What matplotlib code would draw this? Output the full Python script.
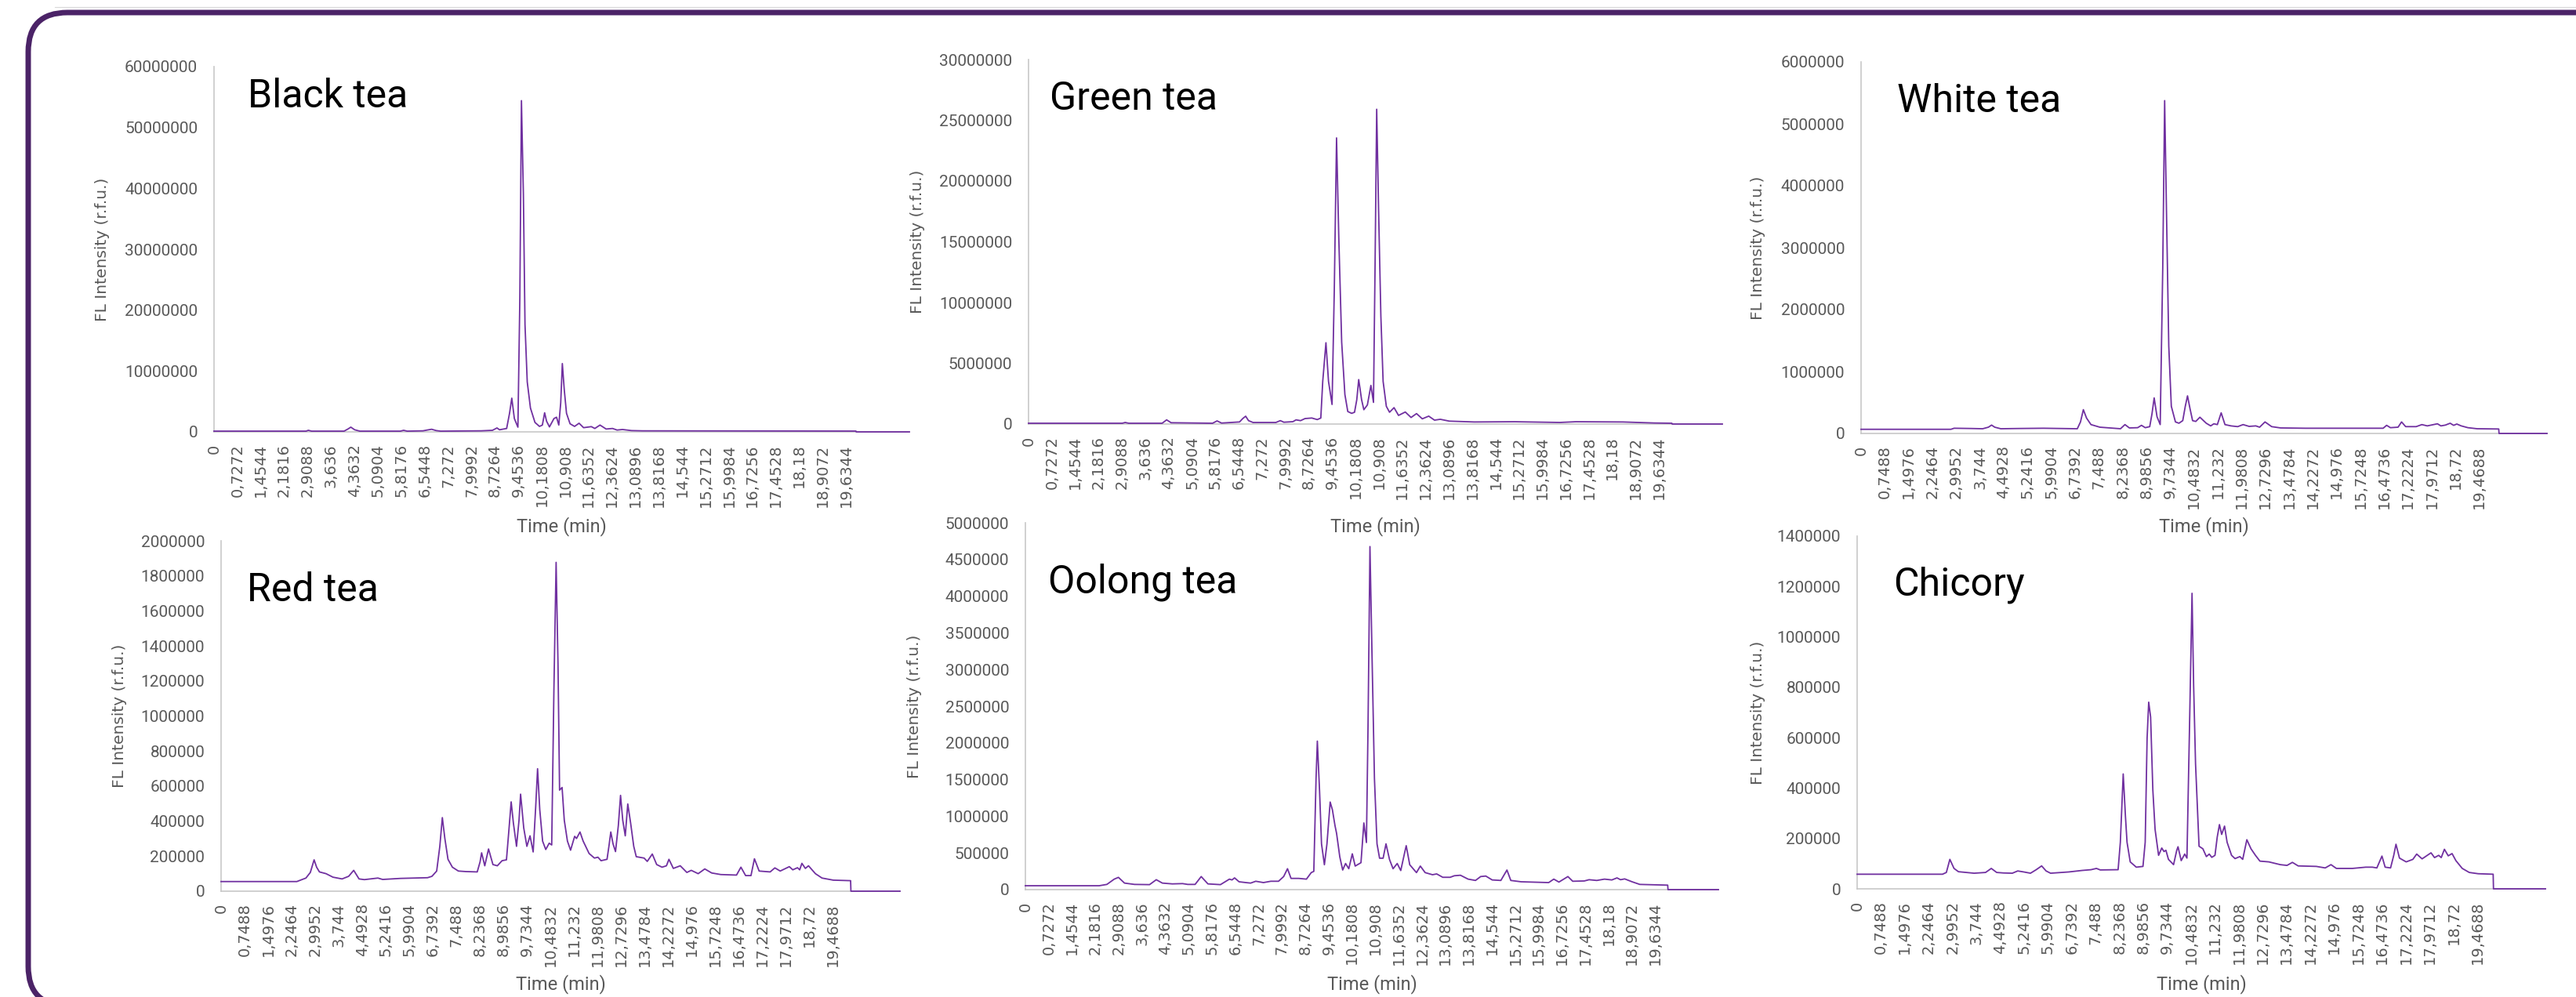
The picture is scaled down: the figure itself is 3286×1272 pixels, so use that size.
import matplotlib.pyplot as plt
from matplotlib.patches import PathPatch
from matplotlib.path import Path
from matplotlib.transforms import IdentityTransform
from matplotlib.ticker import MultipleLocator, FuncFormatter

W, H = 3286, 1272
PURPLE = '#7030A0'
GREY = '#595959'

# category labels shown by the chart: every 0.7272 min or every 0.7488 min
labels_7272 = ['0', '0,7272', '1,4544', '2,1816', '2,9088', '3,636', '4,3632', '5,0904',
               '5,8176', '6,5448', '7,272', '7,9992', '8,7264', '9,4536', '10,1808', '10,908',
               '11,6352', '12,3624', '13,0896', '13,8168', '14,544', '15,2712', '15,9984',
               '16,7256', '17,4528', '18,18', '18,9072', '19,6344']
labels_7488 = ['0', '0,7488', '1,4976', '2,2464', '2,9952', '3,744', '4,4928', '5,2416',
               '5,9904', '6,7392', '7,488', '8,2368', '8,9856', '9,7344', '10,4832', '11,232',
               '11,9808', '12,7296', '13,4784', '14,2272', '14,976', '15,7248', '16,4736',
               '17,2224', '17,9712', '18,72', '19,4688']

# chromatograms: time (min) and FL intensity (r.f.u.)
black_time = [0, 2.86, 2.93, 3.03, 4.04, 4.16, 4.25, 4.37, 4.53, 5.79, 5.89, 6.0, 6.49, 6.62, 6.76,
              6.9, 7.04, 8.3, 8.65, 8.79, 8.87, 9.0, 9.09, 9.18, 9.25, 9.33, 9.44, 9.5, 9.55, 9.61,
              9.66, 9.73, 9.83, 9.97, 10.11, 10.2, 10.27, 10.33, 10.42, 10.56, 10.64, 10.71, 10.77,
              10.82, 10.88, 10.95, 11.06, 11.2, 11.34, 11.48, 11.72, 11.83, 11.99, 12.18, 12.38,
              12.52, 12.69, 12.97, 13.32, 19.94, 19.95, 21.6]
black_fl = [120000, 120000, 258000, 120000, 120000, 470000, 774000, 344000, 120000, 120000,
            258000, 120000, 172000, 300000, 430000, 215000, 120000, 172000, 258000, 645000,
            344000, 473000, 559000, 3050000, 5540000, 2190000, 770000, 21960000, 54410000, 39150000,
            17660000, 8210000, 3910000, 1550000, 900000, 1120000, 3140000, 1760000, 820000, 2190000,
            2410000, 1120000, 4770000, 11220000, 6920000, 3050000, 1330000, 900000, 1420000, 690000,
            860000, 560000, 1120000, 470000, 560000, 300000, 390000, 210000, 170000, 130000, 0, 0]

green_time = [0, 2.92, 3.01, 3.12, 4.16, 4.3, 4.44, 5.73, 5.87, 6.01, 6.57, 6.67, 6.76, 6.85, 6.99,
              7.7, 7.84, 7.95, 8.23, 8.33, 8.47, 8.61, 8.82, 8.99, 9.1, 9.16, 9.26, 9.34, 9.45, 9.52,
              9.59, 9.66, 9.75, 9.85, 9.94, 10.06, 10.15, 10.22, 10.28, 10.37, 10.44, 10.55, 10.66,
              10.74, 10.79, 10.84, 10.9, 10.97, 11.04, 11.14, 11.24, 11.38, 11.52, 11.73, 11.91,
              12.08, 12.26, 12.46, 12.64, 12.82, 13.1, 13.88, 15.14, 16.54, 17.04, 18.51, 19.49,
              20.03, 20.04, 21.6]
green_fl = [65000, 65000, 129000, 65000, 65000, 344000, 108000, 65000, 258000, 80000,
            172000, 452000, 645000, 280000, 129000, 129000, 280000, 150000, 194000, 344000,
            280000, 452000, 495000, 366000, 495000, 3510000, 6690000, 3510000, 1610000, 11030000,
            23550000, 15330000, 6730000, 2430000, 1030000, 880000, 970000, 2000000, 3660000, 2000000,
            1180000, 1570000, 3180000, 1780000, 13180000, 25910000, 17480000, 8880000, 3510000, 1460000,
            970000, 1350000, 710000, 990000, 540000, 860000, 430000, 650000, 320000, 390000,
            240000, 170000, 190000, 130000, 190000, 170000, 85000, 65000, 0, 0]

white_time = [0, 2.83, 2.93, 3.47, 3.83, 4.01, 4.11, 4.21, 4.4, 4.97, 5.75, 6.81, 6.91, 7.0, 7.1,
              7.24, 7.52, 8.17, 8.31, 8.45, 8.71, 8.83, 8.95, 9.09, 9.16, 9.23, 9.32, 9.42, 9.5,
              9.56, 9.62, 9.69, 9.77, 9.9, 10.01, 10.13, 10.21, 10.28, 10.36, 10.44, 10.54, 10.67,
              10.87, 11.01, 11.11, 11.22, 11.34, 11.46, 11.65, 11.86, 12.03, 12.22, 12.43, 12.55,
              12.72, 12.93, 13.21, 13.99, 16.44, 16.55, 16.67, 16.91, 17.02, 17.15, 17.48, 17.66,
              17.83, 18.15, 18.26, 18.4, 18.55, 18.66, 18.76, 18.9, 19.11, 19.4, 20.08, 20.09, 21.6]
white_fl = [67000, 67000, 84000, 80000, 76000, 101000, 135000, 101000, 76000, 80000,
            84000, 76000, 186000, 384000, 249000, 143000, 101000, 76000, 143000, 89000,
            93000, 131000, 93000, 110000, 312000, 574000, 270000, 143000, 2670000, 5375000,
            3520000, 1410000, 439000, 186000, 165000, 207000, 439000, 607000, 397000, 207000,
            194000, 262000, 165000, 122000, 156000, 143000, 333000, 143000, 122000, 110000,
            143000, 114000, 122000, 101000, 186000, 110000, 89000, 84000, 84000, 131000,
            93000, 101000, 186000, 110000, 110000, 143000, 122000, 156000, 122000, 135000,
            165000, 131000, 152000, 122000, 93000, 76000, 72000, 0, 0]

red_time = [0, 2.41, 2.7, 2.84, 2.96, 3.04, 3.13, 3.34, 3.56, 3.85,
            4.06, 4.22, 4.39, 4.56, 4.99, 5.14, 5.71, 6.57, 6.71, 6.86,
            6.96, 7.04, 7.12, 7.22, 7.36, 7.55, 7.79, 8.15, 8.24, 8.29,
            8.39, 8.51, 8.65, 8.79, 8.94, 9.08, 9.15, 9.23, 9.3, 9.4,
            9.48, 9.53, 9.63, 9.73, 9.83, 9.93, 10.01, 10.07, 10.14, 10.23,
            10.33, 10.44, 10.52, 10.59, 10.66, 10.72, 10.77, 10.85, 10.92, 11.02,
            11.12, 11.25, 11.31, 11.42, 11.52, 11.71, 11.88, 11.99, 12.09, 12.28,
            12.34, 12.4, 12.47, 12.55, 12.64, 12.71, 12.78, 12.86, 12.94, 13.03,
            13.13, 13.21, 13.46, 13.56, 13.72, 13.86, 14.03, 14.17, 14.25, 14.39,
            14.61, 14.82, 14.96, 15.18, 15.39, 15.61, 15.9, 16.4, 16.54, 16.69,
            16.86, 16.97, 17.12, 17.47, 17.62, 17.79, 18.08, 18.19, 18.34, 18.41,
            18.48, 18.59, 18.69, 18.91, 19.12, 19.48, 20.03, 20.04, 21.6]
red_fl = [55000, 55000, 75000, 107000, 179000, 137000, 110000, 100000, 80000, 70000,
          85000, 119000, 70000, 66000, 75000, 67000, 73000, 77000, 85000, 115000,
          256000, 420000, 301000, 182000, 137000, 115000, 112000, 110000, 167000, 219000,
          145000, 241000, 152000, 145000, 174000, 179000, 331000, 510000, 390000, 256000,
          405000, 554000, 361000, 256000, 316000, 224000, 480000, 699000, 465000, 286000,
          238000, 274000, 264000, 1150000, 1877000, 1300000, 577000, 592000, 405000, 286000,
          234000, 313000, 301000, 338000, 286000, 215000, 189000, 194000, 174000, 182000,
          256000, 338000, 271000, 226000, 375000, 547000, 405000, 316000, 498000, 390000,
          256000, 197000, 189000, 170000, 212000, 152000, 137000, 145000, 182000, 130000,
          145000, 107000, 119000, 100000, 127000, 104000, 95000, 92000, 137000, 89000,
          89000, 185000, 115000, 110000, 133000, 115000, 140000, 122000, 134000, 122000,
          159000, 130000, 145000, 100000, 75000, 63000, 60000, 0, 0]

oolong_time = [0, 2.3, 2.54, 2.77, 2.9, 3.09, 3.4, 3.87, 4.08, 4.27,
               4.58, 4.9, 5.06, 5.29, 5.48, 5.69, 6.08, 6.36, 6.44, 6.52,
               6.66, 6.87, 7.02, 7.18, 7.42, 7.65, 7.89, 8.05, 8.17, 8.28,
               8.52, 8.76, 8.91, 8.99, 9.06, 9.1, 9.17, 9.23, 9.32, 9.4,
               9.5, 9.57, 9.65, 9.7, 9.8, 9.89, 9.98, 10.08, 10.19, 10.28,
               10.46, 10.55, 10.63, 10.68, 10.74, 10.8, 10.88, 10.96, 11.04, 11.15,
               11.24, 11.35, 11.46, 11.59, 11.7, 11.81, 11.87, 11.98, 12.19, 12.31,
               12.46, 12.69, 12.82, 13.01, 13.24, 13.37, 13.56, 13.8, 14.03, 14.19,
               14.35, 14.55, 14.82, 15.01, 15.13, 15.45, 16.31, 16.47, 16.63, 16.91,
               17.06, 17.42, 17.57, 17.81, 18.05, 18.28, 18.44, 18.55, 18.68, 18.91,
               19.15, 20.02, 20.03, 21.6]
oolong_fl = [53000, 53000, 71000, 143000, 167000, 89000, 71000, 68000, 135000, 89000,
             78000, 82000, 71000, 71000, 178000, 78000, 68000, 143000, 132000, 160000,
             107000, 96000, 89000, 114000, 96000, 114000, 114000, 178000, 285000, 153000,
             153000, 143000, 232000, 249000, 1515000, 2024000, 1337000, 624000, 339000, 624000,
             1194000, 1087000, 873000, 766000, 446000, 267000, 356000, 285000, 488000, 321000,
             367000, 909000, 642000, 2228000, 4676000, 3297000, 1515000, 624000, 428000, 428000,
             624000, 410000, 285000, 356000, 260000, 481000, 599000, 339000, 232000, 321000,
             232000, 203000, 214000, 168000, 168000, 189000, 196000, 143000, 125000, 178000,
             185000, 132000, 125000, 267000, 125000, 107000, 96000, 143000, 103000, 178000,
             114000, 118000, 135000, 125000, 143000, 132000, 160000, 135000, 146000, 107000,
             71000, 61000, 0, 0]

chicory_time = [0, 2.68, 2.8, 2.91, 3.04, 3.18, 3.67, 4.03, 4.21, 4.38,
                4.59, 4.87, 5.04, 5.23, 5.44, 5.62, 5.79, 5.93, 6.07, 6.64,
                7.06, 7.34, 7.51, 7.63, 8.19, 8.26, 8.35, 8.42, 8.47, 8.57,
                8.76, 8.97, 9.04, 9.1, 9.15, 9.21, 9.28, 9.35, 9.46, 9.56,
                9.63, 9.69, 9.77, 9.93, 10.03, 10.07, 10.17, 10.28, 10.35, 10.44,
                10.51, 10.56, 10.62, 10.69, 10.73, 10.85, 10.96, 11.05, 11.13, 11.23,
                11.3, 11.37, 11.44, 11.53, 11.61, 11.75, 11.86, 12.01, 12.1, 12.23,
                12.36, 12.5, 12.64, 12.92, 13.28, 13.49, 13.66, 13.84, 14.41, 14.69,
                14.87, 15.04, 15.54, 15.96, 16.17, 16.31, 16.47, 16.57, 16.74, 16.84,
                16.91, 17.02, 17.23, 17.44, 17.56, 17.73, 18.01, 18.12, 18.25, 18.33,
                18.43, 18.55, 18.67, 18.79, 18.99, 19.21, 19.49, 19.96, 19.97, 21.6]
chicory_fl = [58000, 58000, 65000, 117000, 81000, 68000, 62000, 65000, 81000, 65000,
              63000, 62000, 71000, 67000, 62000, 76000, 91000, 71000, 62000, 67000,
              73000, 76000, 81000, 75000, 76000, 185000, 456000, 288000, 185000, 107000,
              86000, 89000, 185000, 599000, 741000, 682000, 392000, 236000, 133000, 162000,
              148000, 153000, 117000, 96000, 153000, 167000, 112000, 138000, 122000, 703000,
              1173000, 807000, 496000, 288000, 169000, 159000, 128000, 138000, 125000, 133000,
              205000, 255000, 216000, 249000, 185000, 133000, 120000, 128000, 117000, 195000,
              159000, 133000, 110000, 107000, 96000, 93000, 105000, 91000, 89000, 83000,
              96000, 81000, 81000, 86000, 86000, 83000, 130000, 86000, 83000, 133000,
              177000, 122000, 107000, 117000, 138000, 119000, 143000, 124000, 133000, 124000,
              157000, 131000, 140000, 112000, 81000, 65000, 60000, 58000, 0, 0]

# name, time, intensity, y max, y step, x labels,
# plot box in px (left, top, right, bottom), title xy px, y-label x px, x-label y px
panels = [
    ('Black tea', black_time, black_fl, 60000000, 10000000, labels_7272,
     (273, 85, 1160, 551), (316, 137), 131, 672),
    ('Green tea', green_time, green_fl, 30000000, 5000000, labels_7272,
     (1312, 76, 2197, 541), (1339, 140), 1170, 672),
    ('White tea', white_time, white_fl, 6000000, 1000000, labels_7488,
     (2374, 79, 3249, 553), (2420, 143), 2243, 672),
    ('Red tea', red_time, red_fl, 2000000, 200000, labels_7488,
     (282, 690, 1148, 1137), (315, 767), 153, 1256),
    ('Oolong tea', oolong_time, oolong_fl, 5000000, 500000, labels_7272,
     (1308, 667, 2192, 1135), (1337, 757), 1167, 1256),
    ('Chicory', chicory_time, chicory_fl, 1400000, 200000, labels_7488,
     (2369, 684, 3247, 1134), (2415, 760), 2242, 1256),
]

fig = plt.figure(figsize=(W / 100, H / 100), dpi=100)

# rounded purple frame, drawn straight in output pixels (y measured from the top)
x0, y0, yb, rr = 36, 16, 1283, 50
frame = [(W + 20, y0), (x0 + rr, y0), (x0, y0), (x0, y0 + rr), (x0, yb - rr), (x0, yb), (x0 + rr, yb)]
codes = [Path.MOVETO, Path.LINETO, Path.CURVE3, Path.CURVE3, Path.LINETO, Path.CURVE3, Path.CURVE3]
frame_px = [(x, H - y) for x, y in frame]
fig.add_artist(PathPatch(Path(frame_px, codes), transform=IdentityTransform(),
                         fc='none', ec='#4B2367', lw=5, capstyle='butt'))
fig.add_artist(plt.Line2D([70, W], [H - 9, H - 9], transform=IdentityTransform(),
                          color='#D9D9D9', lw=0.8))

for name, t, fl, ymax, ystep, labels, box, title_xy, ylab_x, xlab_y in panels:
    l, top, r, b = box
    ax = fig.add_axes([l / W, 1 - b / H, (r - l) / W, (b - top) / H])
    ax.patch.set_alpha(0)
    ax.plot(t, fl, color=PURPLE, lw=1.3, clip_on=False, zorder=3)
    ax.set_xlim(0, 21.6)
    ax.set_ylim(0, ymax)

    ax.set_xticks([float(s.replace(',', '.')) for s in labels])
    ax.set_xticklabels(labels, rotation=90)
    ax.yaxis.set_major_locator(MultipleLocator(ystep))
    ax.yaxis.set_major_formatter(FuncFormatter(lambda v, p: '%d' % round(v)))

    ax.tick_params(length=0)
    ax.tick_params(axis='x', pad=11, labelsize=14, labelcolor=GREY, labelfontfamily='DejaVu Sans')
    ax.tick_params(axis='y', pad=15, labelsize=15, labelcolor=GREY, labelfontfamily='Roboto')

    ax.spines[['top', 'right']].set_visible(False)
    for s in ('left', 'bottom'):
        ax.spines[s].set_color('#C8C8C8')
        ax.spines[s].set_linewidth(1.2)

    fig.text(title_xy[0] / W, 1 - title_xy[1] / H, name, fontsize=36, family='Roboto',
             va='baseline', ha='left', color='black')
    fig.text(ylab_x / W, 1 - (top + b) / 2 / H, 'FL Intensity (r.f.u.)', rotation=90,
             ha='center', va='center', fontsize=14.5, color=GREY, family='DejaVu Sans')
    fig.text((l + r) / 2 / W, 1 - xlab_y / H, 'Time (min)', ha='center', va='center',
             fontsize=17, color=GREY, family='Roboto')

fig.savefig('out.png', dpi=100)
